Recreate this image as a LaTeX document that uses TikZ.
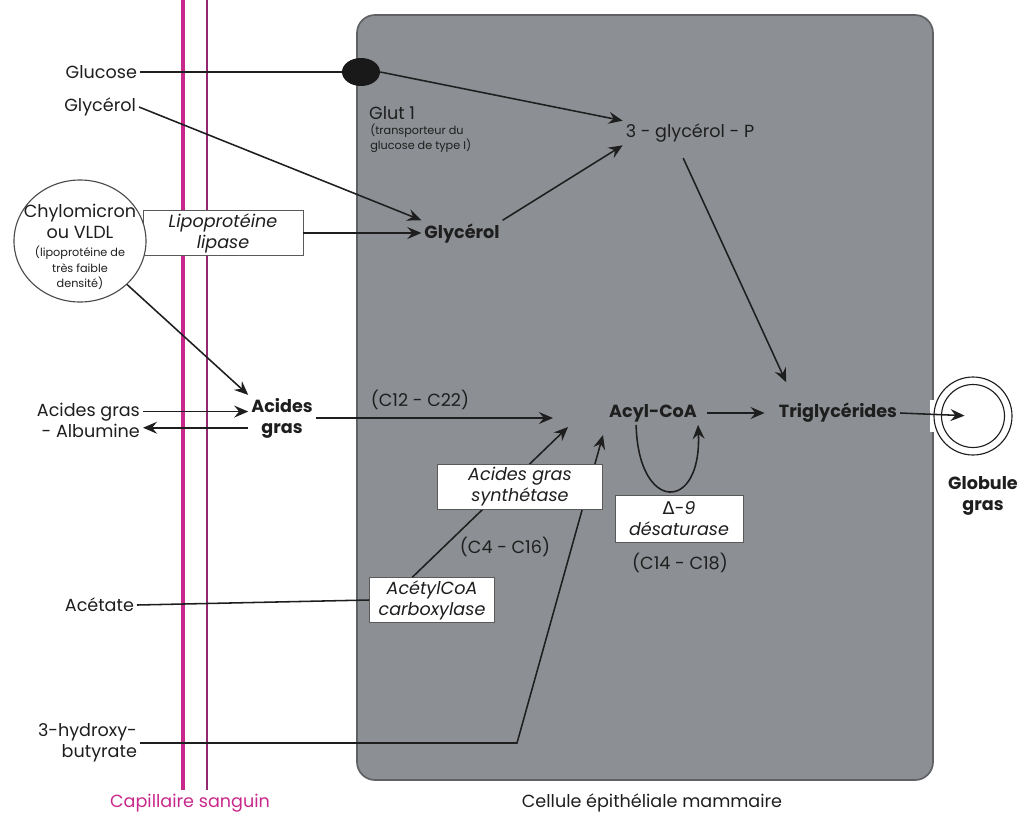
\documentclass[tikz,border=0pt]{standalone}
\usepackage{fontspec}
\setmainfont{Poppins}
\newfontfamily\symfont{DejaVu Sans}
\usepackage{tikz}
\usetikzlibrary{arrows.meta}
\usetikzlibrary{shapes.geometric}
\usetikzlibrary{positioning}
\definecolor{cellgray}{RGB}{140,143,147}
\definecolor{cellborder}{RGB}{95,97,100}
\definecolor{capil}{RGB}{200,40,140}
\definecolor{capildark}{RGB}{145,40,112}
\definecolor{ink}{RGB}{30,30,30}
\newcommand{\px}{0.025cm}
\newcommand{\petit}{\fontsize{8}{8.5}\selectfont}

\tikzset{
  lbl/.style={text=ink,font=\fontsize{12.5}{15}\selectfont,inner sep=2pt,align=center},
  gras/.style={lbl,font=\fontsize{12.5}{15}\selectfont\bfseries},
  small/.style={text=ink,font=\petit,inner sep=0pt,align=left},
  enzyme/.style={draw=gray!70!black,fill=white,inner sep=0pt,align=center,
    font=\fontsize{12.5}{15}\selectfont\itshape,text=ink},
  flux/.style={-{Stealth[length=10pt,width=8.5pt,inset=3.5pt]},line width=1.1pt,ink},
  trait/.style={line width=1.1pt,ink},
}

\begin{document}
\begin{tikzpicture}[x=\px,y=-\px]
  \useasboundingbox (0,0) rectangle (1019,823);
  % capillaire et cellule
  \draw[capil,line width=2.2pt] (183,0) -- (183,790);
  \draw[capildark,line width=1.5pt] (207,0) -- (207,790);
  \draw[cellborder,fill=cellgray,line width=1.2pt,rounded corners=0.45cm] (357,15) rectangle (933,780);
  \fill[white] (930,400) rectangle (942,432);

  % dehors
  \node[lbl,anchor=east] (glucose) at (140,72) {Glucose};
  \node[lbl,anchor=east] (glyout) at (139,107) {Glycérol};
  \node[enzyme,minimum width=160*\px,minimum height=45*\px] (lipase) at (223,233) {Lipoprotéine\\lipase};
  \node[ellipse,draw=ink!80,fill=white,line width=0.8pt,minimum width=132*\px,minimum height=122*\px] (chylo) at (80,241) {};
  \node[lbl,inner sep=0pt] (chylotxt) at (80,247) {Chylomicron\\ou VLDL\\[-2pt]{\petit (lipoprotéine de}\\[-4pt]{\petit très faible}\\[-4pt]{\petit densité)}};
  \node[lbl,anchor=east,align=right] (agalb) at (143,420) {Acides gras\\- Albumine};
  \node[gras] (acides) at (282,418) {Acides\\gras};
  \node[lbl,anchor=east] (acetate) at (137,605) {Acétate};
  \node[lbl,anchor=east,align=right] (hydroxy) at (140,743) {3-hydroxy-\\butyrate};

  % dedans
  \node[ellipse,fill=black!90,minimum width=38*\px,minimum height=28*\px,inner sep=0pt] (glut) at (361,72) {};
  \node[lbl,anchor=west] (glut1) at (366,113) {Glut 1};
  \node[small,anchor=north west] (glutinfo) at (370,124) {(transporteur du\\glucose de type I)};
  \node[lbl] (g3p) at (690,133) {3 - glycérol - P};
  \node[gras] (glyin) at (462,233) {Glycérol};
  \node[lbl] (c12) at (420,400) {(C12 - C22)};
  \node[gras] (acyl) at (653,413) {Acyl-CoA};
  \node[gras] (trig) at (838,413) {Triglycérides};
  \node[lbl] (c4) at (505,547) {(C4 - C16)};
  \node[lbl] (c14) at (680,563) {(C14 - C18)};
  \node[enzyme,minimum width=125*\px,minimum height=45*\px] (acc) at (432,600) {AcétylCoA\\carboxylase};
  \node[circle,draw=ink,line width=0.8pt,fill=white,minimum size=78*\px] (globule) at (973,416) {};
  \node[circle,draw=ink,line width=0.8pt,minimum size=63*\px] (globin) at (globule) {};
  \node[gras] (globtxt) at (983,496) {Globule\\gras};
  \node[lbl,text=capil] (capiltxt) at (190,803) {Capillaire sanguin};
  \node[lbl] (celltxt) at (652,803) {Cellule épithéliale mammaire};

  \coordinate (tipA) at (553,418);
  \coordinate (tipB) at (568,427);
  \coordinate (tipC) at (603,435);
  \coordinate (hydbend) at (517,743);

  % flux
  \draw[trait] (glucose.east) -- (glut.west);
  \draw[flux] (glut.east) -- (g3p.north west);
  \draw[flux] (glyout.east) -- (glyin.north west);
  \draw[flux] (glyin.north east) -- (g3p.south west);
  \draw[flux] (lipase.east) -- (glyin.west);
  \draw[flux] (chylo.south east) -- (acides.north west);
  \draw[flux] ([yshift=6pt]agalb.east) -- ([yshift=6pt]agalb.east -| acides.west);
  \draw[flux] ([yshift=-5.5pt]agalb.east -| acides.west) -- ([yshift=-5.5pt]agalb.east);
  \draw[flux] (acides.east) -- (tipA);
  \draw[flux] ([xshift=-14pt]acc.north) -- (tipB);
  \draw[trait] (acetate.east) -- (acc.west);
  \draw[flux] (hydroxy.east) -- (hydbend) -- (tipC);
  \draw[flux,shorten <=5pt,shorten >=8pt] (acyl.east) -- (trig.west);
  \draw[flux,shorten <=10pt,shorten >=14pt] ([xshift=-9pt]g3p.south) -- ([xshift=-31pt]trig.north);
  \draw[flux] ([xshift=-12pt]acyl.south) .. controls +(2,88) and +(4,88) .. ([xshift=32pt]acyl.south);
  \draw[flux,shorten >=6pt] (trig.east) -- (globule.center);

  % enzymes par-dessus
  \node[enzyme,minimum width=165*\px,minimum height=45*\px] (ags) at (520,487) {Acides gras\\synthétase};
  \node[enzyme,minimum width=128*\px,minimum height=47*\px] (desat) at (679,519) {{\upshape\symfont Δ}-9\\désaturase};
\end{tikzpicture}
\end{document}
